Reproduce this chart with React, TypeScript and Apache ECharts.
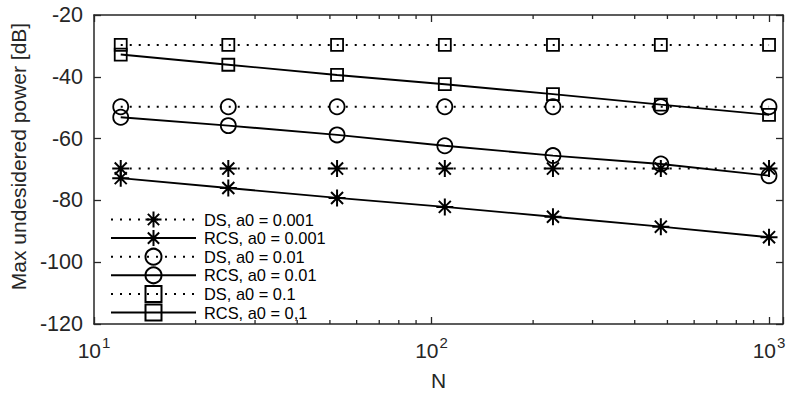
import React, { useEffect, useRef } from "react";
import * as echarts from "echarts";

const nValues = [12, 25, 52.5, 109.5, 229, 478, 1000];
const dsA0001 = [-69.7, -69.7, -69.7, -69.7, -69.7, -69.7, -69.7];
const rcsA0001 = [-72.8, -76.0, -79.2, -82.1, -85.3, -88.5, -91.9];
const dsA001 = [-49.7, -49.7, -49.7, -49.7, -49.7, -49.7, -49.7];
const rcsA001 = [-53.1, -55.8, -58.8, -62.3, -65.5, -68.2, -72.0];
const dsA01 = [-29.7, -29.7, -29.7, -29.7, -29.7, -29.7, -29.7];
const rcsA01 = [-32.8, -36.1, -39.4, -42.4, -45.6, -49.0, -52.3];
const seriesNames = [
  "DS, a0 = 0.001",
  "RCS, a0 = 0.001",
  "DS, a0 = 0.01",
  "RCS, a0 = 0.01",
  "DS, a0 = 0.1",
  "RCS, a0 = 0,1",
];
const yTicks = [-120, -100, -80, -60, -40, -20];
const minorTickValues = [20, 30, 40, 50, 60, 70, 80, 90, 200, 300, 400, 500, 600, 700, 800, 900];

const FONT = "'Liberation Sans', Arial, Helvetica, sans-serif";
const AX = "#262626";
const ASTERISK =
  "path://M0,-10L0,10M-10,0L10,0M-7.07,-7.07L7.07,7.07M-7.07,7.07L7.07,-7.07";

function mk(name: string, vals: number[], symbol: string, size: number, dotted: boolean) {
  return {
    type: "line",
    name,
    data: nValues.map((n, i) => [n, vals[i]]),
    symbol,
    symbolSize: size,
    showSymbol: true,
    lineStyle: { color: "#000", width: 1.9, type: dotted ? [2, 7] : "solid", cap: "butt" },
    itemStyle: { color: "rgba(0,0,0,0)", borderColor: "#000", borderWidth: symbol === ASTERISK ? 2 : 1.8 },
    emphasis: { disabled: true },
    z: 3,
  };
}

export default function App() {
  const ref = useRef<HTMLDivElement>(null);
  useEffect(() => {
    if (!ref.current) return;
    const chart = echarts.init(ref.current, null, { renderer: "svg" });
    const xCommon = {
      type: "log",
      logBase: 10,
      min: 10,
      max: 1100,
      splitLine: { show: false },
      axisLine: { show: true, lineStyle: { color: AX, width: 1.5 } },
      axisTick: { show: true, inside: true, length: 7, lineStyle: { color: AX, width: 1.3 } },
    };
    const yCommon = {
      type: "value",
      min: yTicks[0],
      max: yTicks[yTicks.length - 1],
      interval: 20,
      splitLine: { show: false },
      axisLine: { show: true, lineStyle: { color: AX, width: 1.5 } },
      axisTick: { show: true, inside: true, length: 7, lineStyle: { color: AX, width: 1.3 } },
    };
    const option: any = {
      animation: false,
      textStyle: { fontFamily: FONT },
      grid: { left: 94, right: 6, top: 15, bottom: 73, containLabel: false },
      xAxis: [
        {
          ...xCommon,
          position: "bottom",
          name: "N",
          nameLocation: "middle",
          nameGap: 46,
          nameTextStyle: { fontSize: 21, color: AX, fontFamily: FONT },
          axisLabel: {
            margin: 11,
            color: AX,
            fontFamily: FONT,
            formatter: (v: number) => {
              const e = Math.round(Math.log10(v));
              if (Math.abs(Math.pow(10, e) - v) > 1e-6 * v) return "";
              return `{b|10}{s|${e}}`;
            },
            rich: {
              b: { fontSize: 21, color: AX, fontFamily: FONT, verticalAlign: "bottom" },
              s: { fontSize: 15, color: AX, fontFamily: FONT, padding: [0, 0, 11, 1], verticalAlign: "bottom" },
            },
          },
        },
        {
          ...xCommon,
          position: "top",
          axisLabel: { show: false },
        },
      ],
      yAxis: [
        {
          ...yCommon,
          position: "left",
          name: "Max undesidered power [dB]",
          nameLocation: "middle",
          nameGap: 57,
          nameRotate: 90,
          nameTextStyle: { fontSize: 21, color: AX, fontFamily: FONT, padding: [0, 0, 0, 26] },
          axisLabel: { margin: 11, fontSize: 21.5, color: AX, fontFamily: FONT },
        },
        {
          ...yCommon,
          position: "right",
          axisLabel: { show: false },
        },
      ],
      legend: {
        orient: "vertical",
        left: 110,
        top: 210.5,
        padding: 0,
        itemWidth: 85,
        itemHeight: 20,
        itemGap: 0.6,
        data: seriesNames,
        formatter: "{t|{name}}",
        textStyle: {
          fontSize: 16.4,
          color: "#000",
          fontFamily: FONT,
          rich: { t: { fontSize: 16.4, color: "#000", fontFamily: FONT, padding: [0, 0, 0, 3] } },
        },
        selectedMode: false,
      },
      series: [
        mk(seriesNames[0], dsA0001, ASTERISK, 17, true),
        mk(seriesNames[1], rcsA0001, ASTERISK, 17, false),
        mk(seriesNames[2], dsA001, "circle", 15, true),
        mk(seriesNames[3], rcsA001, "circle", 15, false),
        mk(seriesNames[4], dsA01, "rect", 12, true),
        mk(seriesNames[5], rcsA01, "rect", 12, false),
        {
          type: "custom",
          name: "minorTicks",
          silent: true,
          z: 5,
          data: minorTickValues.map((v) => [v, yTicks[0]]),
          encode: { x: 0, y: 1 },
          renderItem: (params: any, api: any) => {
            const v = api.value(0);
            const b = api.coord([v, yTicks[0]]);
            const t = api.coord([v, yTicks[yTicks.length - 1]]);
            const style = { stroke: AX, lineWidth: 1.3 };
            return {
              type: "group",
              children: [
                { type: "line", shape: { x1: b[0], y1: b[1], x2: b[0], y2: b[1] - 4 }, style },
                { type: "line", shape: { x1: t[0], y1: t[1], x2: t[0], y2: t[1] + 4 }, style },
              ],
            };
          },
        },
      ],
    };
    chart.setOption(option);
    return () => chart.dispose();
  }, []);
  return (
    <div
      ref={ref}
      style={{ position: "fixed", left: 0, top: 0, width: 789, height: 397, background: "#fff" }}
    />
  );
}
